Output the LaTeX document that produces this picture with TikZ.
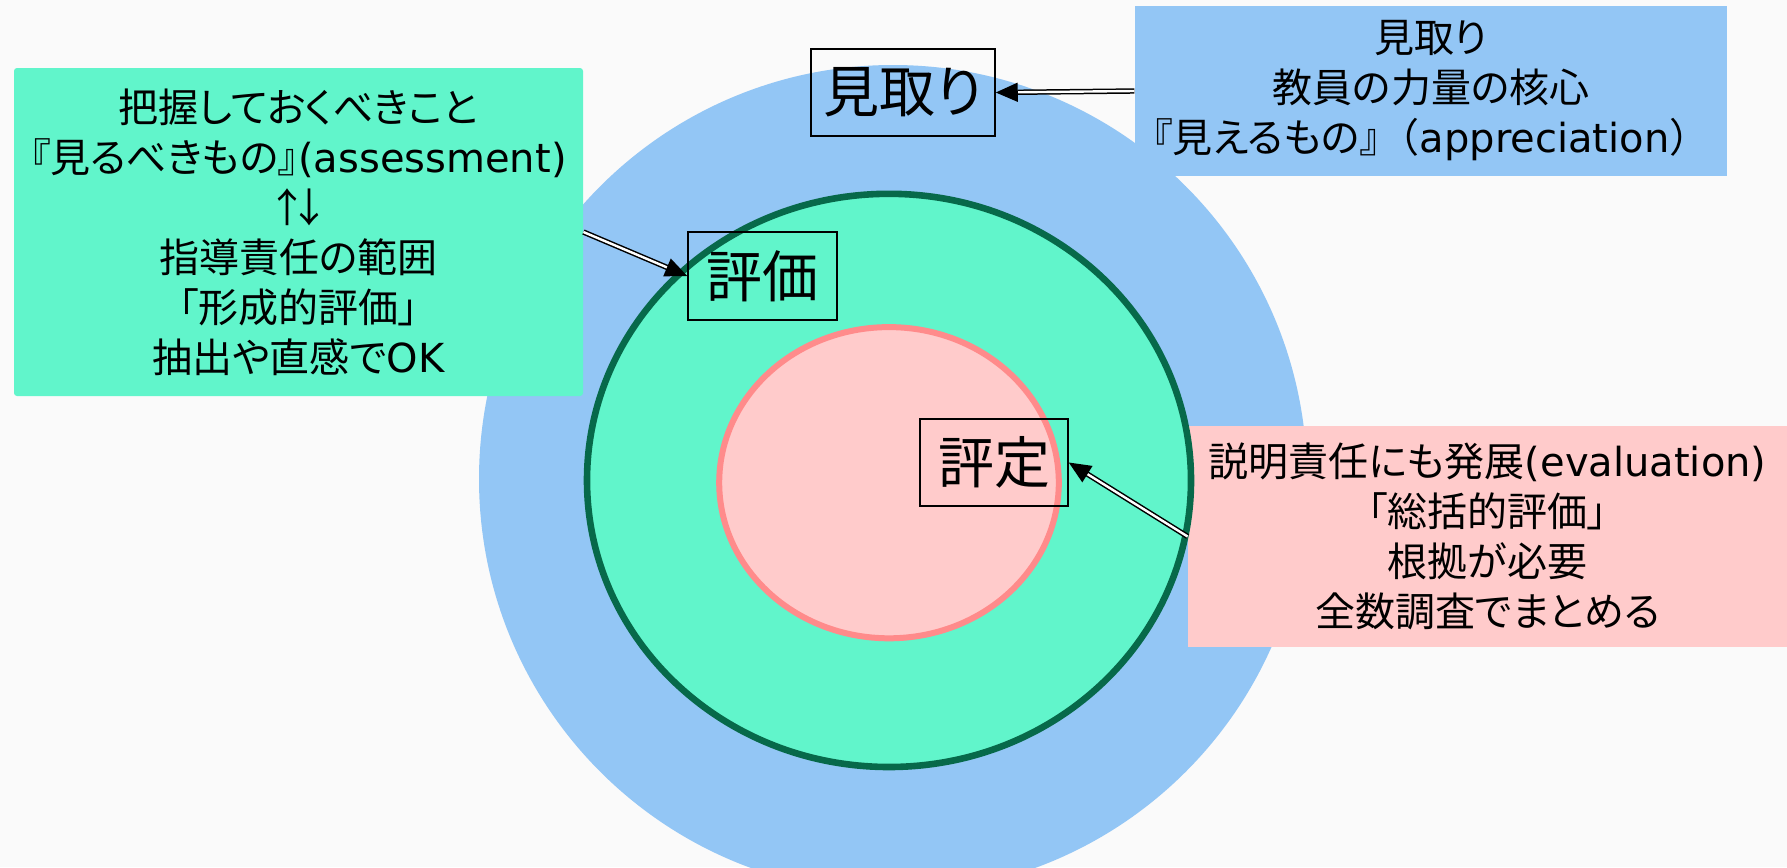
\documentclass[tikz,border=0pt]{standalone}
\usepackage{fontspec}
\setmainfont{Noto Sans CJK JP}[CharacterWidth=AlternateProportional]
\newfontfamily\jpfull{Noto Sans CJK JP}
\newfontfamily\lat{DejaVu Sans}
\usetikzlibrary{arrows.meta}
\definecolor{bgc}{HTML}{FAFAFA}
\definecolor{bluec}{HTML}{93C6F5}
\definecolor{mintc}{HTML}{61F5CB}
\definecolor{darkg}{HTML}{07694A}
\definecolor{pinkc}{HTML}{FFCBCB}
\definecolor{pinkline}{HTML}{FF8B8B}
\tikzset{
  infobox/.style={rectangle, inner sep=0pt, align=center, font=\fontsize{20}{25}\selectfont},
  labelbox/.style={rectangle, draw=black, line width=0.75pt, inner sep=0pt,
    minimum width=92pt, minimum height=43.5pt, font=\fontsize{28}{34}\selectfont},
  dblarrow/.style={draw=black, line width=0.75pt, double=white, double distance=1.2pt,
    -{Triangle[length=11pt,width=9.5pt]}}
}
\begin{document}
\begin{tikzpicture}[x=0.5pt,y=-0.5pt]
\useasboundingbox (0,0) rectangle (1787,867);
\clip (0,0) rectangle (1787,867);
\fill[bgc] (0,0) rectangle (1787,867);
% outer circle
\fill[bluec] (893,479) circle [radius=207pt];
% pink info box (behind the green ellipse)
\node[infobox, fill=pinkc, minimum width=299.5pt, minimum height=110.5pt] (hyotei_t) at (1487.5,536.5)
  {説明責任にも発展{\lat (evaluation)}\\「総括的評価」\\根拠が必要\\全数調査でまとめる};
% green ellipse
\draw[darkg, fill=mintc, line width=3.3pt] (889,480.4) ellipse [x radius=151pt, y radius=143.3pt];
% pink ellipse
\draw[pinkline, fill=pinkc, line width=3pt] (889,482.7) ellipse [x radius=84.9pt, y radius=77.8pt];
% info boxes
\node[infobox, fill=mintc, rounded corners=1.5pt, minimum width=284.5pt, minimum height=164pt] (hyoka_t) at (298.5,232)
  {把握しておくべきこと\\『見るべきもの』{\lat (assessment)}\\↑\kern-0.45em↓\\指導責任の範囲\\「形成的評価」\\抽出や直感で{\lat OK}};
\node[infobox, fill=bluec, minimum width=296.25pt, minimum height=85pt] (mitori_t) at (1431,91)
  {見取り\\教員の力量の核心\\『見えるもの』{\jpfull （}{\lat appreciation}{\jpfull ）}};
% label boxes
\node[labelbox] (mitori) at (903,92.5) {見取り};
\node[labelbox, minimum width=74.5pt, minimum height=44pt] (hyoka) at (762.5,276) {評価};
\node[labelbox, minimum width=74pt] (hyotei) at (994,462.5) {評定};
% arrows
\draw[dblarrow] (mitori_t.west) -- (mitori.east);
\draw[dblarrow] (hyoka_t.east) -- (hyoka.west);
\draw[dblarrow] (hyotei_t.west) -- (hyotei.east);
\end{tikzpicture}
\end{document}
